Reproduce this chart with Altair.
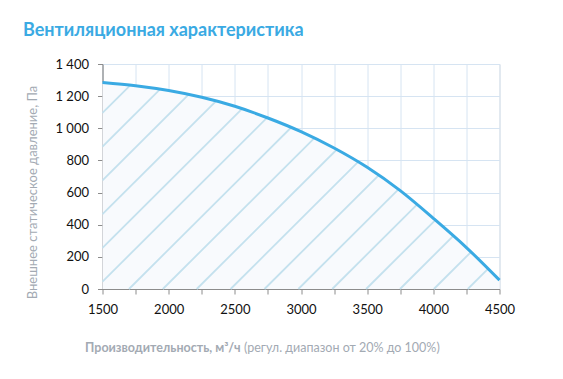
import altair as alt
import numpy as np
import pandas as pd

# --- data ---
flow = [1500, 1750, 2000, 2250, 2500, 2750, 3000, 3250, 3500, 3750, 4000, 4250, 4500]
pressure = [1285, 1265, 1235, 1193, 1137, 1064, 979, 877, 757, 612, 440, 258, 55]

x_ticks = [1500, 1750, 2000, 2250, 2500, 2750, 3000, 3250, 3500, 3750, 4000, 4250, 4500]
y_ticks = [0, 200, 400, 600, 800, 1000, 1200, 1400]

title_text = "Вентиляционная характеристика"
y_title = "Внешнее статическое давление, Па"
x_title_bold = "Производительность, м³/ч"
x_title_rest = "(регул. диапазон от 20% до 100%)"

# --- hatch geometry (decorative diagonal lines under the curve) ---
hatch_start = 1700
hatch_step = 256
hatch_slope = 0.82
fx = np.array(flow, dtype=float)
fy = np.array(pressure, dtype=float)
rows = []
for k in range(-7, 12):
    x0 = hatch_start + hatch_step * k
    xs = max(1500.0, x0)
    ys = hatch_slope * (xs - x0)
    if ys >= np.interp(xs, fx, fy):
        continue
    grid = np.linspace(xs, 4500, 3001)
    diff = hatch_slope * (grid - x0) - np.interp(grid, fx, fy)
    idx = np.where(diff >= 0)[0]
    xe = 4500.0 if len(idx) == 0 else grid[idx[0]]
    ye = hatch_slope * (xe - x0)
    if xe <= xs:
        continue
    rows.append({"flow": xs, "pressure": ys, "x2": xe, "y2": ye})
hatch = pd.DataFrame(rows)

df = pd.DataFrame({"flow": flow, "pressure": pressure})

FONT = "Lato"
BLUE = "#3aaae3"
GRAY_T = "#a3aab3"

xscale = alt.Scale(domain=[1500, 4500], nice=False, zero=False)
yscale = alt.Scale(domain=[0, 1400], nice=False)

xaxis = alt.Axis(values=x_ticks, grid=True, gridColor="#d6e4f2", gridWidth=1,
                 labelExpr="datum.value % 500 == 0 ? datum.value : ''",
                 labelOverlap=False, labelFlush=False,
                 labelFont=FONT, labelFontSize=13, labelColor="#111111",
                 labelPadding=9, tickSize=5, tickColor="#8c8c8c",
                 domainColor="#8c8c8c", domainWidth=1.2, title=None)
yaxis = alt.Axis(values=y_ticks, grid=True, gridColor="#d6e4f2", gridWidth=1,
                 labelExpr="replace(format(datum.value, ','), ',', ' ')",
                 labelOverlap=False, labelFlush=False,
                 labelFont=FONT, labelFontSize=13, labelColor="#111111",
                 labelPadding=9, tickSize=5, tickColor="#8c8c8c",
                 domainColor="#8c8c8c", domainWidth=1.2,
                 title=y_title, titleFont=FONT, titleFontSize=13,
                 titleFontWeight="normal", titleColor=GRAY_T,
                 titleX=-70.5, titleY=128, titleBaseline="middle",
                 titleAngle=-90)

X = alt.X("flow:Q", scale=xscale, axis=xaxis)
Y = alt.Y("pressure:Q", scale=yscale, axis=yaxis)

base = alt.Chart(df)

area = base.mark_area(color="#f8fafd", interpolate="monotone").encode(x=X, y=Y)

hatch_layer = alt.Chart(hatch).mark_rule(color="#c4e1ee", strokeWidth=1.8).encode(
    x=X, y=Y, x2="x2:Q", y2="y2:Q",
)

line = base.mark_line(color=BLUE, strokeWidth=3, interpolate="monotone").encode(x=X, y=Y)

one = pd.DataFrame({"a": [0]})
title = alt.Chart(one).mark_text(
    text=title_text, font=FONT, fontSize=18, fontWeight="bold", color=BLUE,
    align="left", baseline="alphabetic",
).encode(x=alt.value(-79.5), y=alt.value(-28))

xt1 = alt.Chart(one).mark_text(
    text=x_title_bold, font=FONT, fontSize=12.5, fontWeight="bold", color=GRAY_T,
    align="right", baseline="middle",
).encode(x=alt.value(138), y=alt.value(284))

xt2 = alt.Chart(one).mark_text(
    text=x_title_rest, font=FONT, fontSize=12.5, fontWeight="normal", color=GRAY_T,
    align="left", baseline="middle",
).encode(x=alt.value(141.5), y=alt.value(284))

chart = alt.layer(area, hatch_layer, line, title, xt1, xt2).properties(
    width=397, height=225,
    padding={"left": 94.5, "top": 56, "right": 50, "bottom": 78},
    autosize=alt.AutoSizeParams(type="none"),
).configure_view(stroke=None).configure_axis(labelOverlap=False).configure(background="white")

chart.save("out.html", embed_options={"renderer": "svg", "actions": False})
